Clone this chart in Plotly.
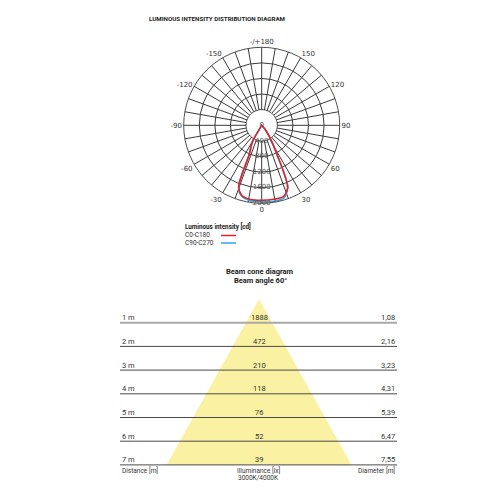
import plotly.graph_objects as go

# ---------------- data ----------------
# Polar luminous intensity curves (theta in degrees, r in cd)
c0_theta = [-90, -36, -31, -29.4, -22.8, -22.0, -20.4, -15.9, -9.2, 0, 9.2, 17.2, 22.7, 25.1, 27.3, 32, 38.7, 44, 90]
c0_r     = [0, 0, 150, 471, 862, 1300, 1696, 1867, 1922, 1923, 1922, 1906, 1724, 1331, 895, 484, 164, 0, 0]
c90_theta = [-90, -36, -31, -29.4, -22.8, -22.0, -20.4, -15.9, -9.2, 0, 9.2, 17.2, 22.7, 25.1, 27.3, 32, 38.7, 44, 90]
c90_r     = [0, 0, 150, 471, 862, 1300, 1700, 1885, 1950, 1965, 1975, 1945, 1735, 1331, 895, 484, 164, 0, 0]

radial_ticks = [400, 800, 1200, 1600, 2000]
angular_tick_vals = list(range(0, 360, 10))
angular_labels = {0: "0", 30: "30", 60: "60", 90: "90", 120: "120", 150: "150",
                  180: "-/+180", 210: "-150", 240: "-120", 270: "-90", 300: "-60", 330: "-30"}

# Beam cone table
distances = [1, 2, 3, 4, 5, 6, 7]
distance_labels = ["1 m", "2 m", "3 m", "4 m", "5 m", "6 m", "7 m"]
illuminance = ["1888", "472", "210", "118", "76", "52", "39"]
diameters = [1.08, 2.16, 3.23, 4.31, 5.39, 6.47, 7.55]
diameter_labels = ["1,08", "2,16", "3,23", "4,31", "5,39", "6,47", "7,55"]

# ---------------- styling ----------------
RED = "#E3222B"
BLUE = "#2BA8DF"
GRID = "#3a3a3a"
TXT = "#333333"
YELLOW = "#FAF2A2"
FONT = "Roboto"

W = H = 500
OFF = 8  # page body margin

def px(xp):
    return (xp - OFF) / W

def py(yp):
    return 1 - (yp - OFF) / H

fig = go.Figure()

# ---------- polar part ----------
cx, cy, R = 261.7, 125.3, 78
polar_dom_x = [px(cx - R), px(cx + R)]
polar_dom_y = [py(cy + R), py(cy - R)]

ring_theta = list(range(0, 361, 5))
fig.add_trace(go.Scatterpolar(
    r=[radial_ticks[0]] * len(ring_theta), theta=ring_theta,
    mode="lines", fill="toself", fillcolor="white",
    line=dict(color=GRID, width=0.7), hoverinfo="skip", showlegend=False))

fig.add_trace(go.Scatterpolar(
    r=c90_r, theta=c90_theta, mode="lines",
    line=dict(color=BLUE, width=1.6, shape="spline", smoothing=0.8),
    name="C90-C270", showlegend=False))
fig.add_trace(go.Scatterpolar(
    r=c0_r, theta=c0_theta, mode="lines",
    line=dict(color=RED, width=1.6, shape="spline", smoothing=0.8),
    name="C0-C180", showlegend=False))

fig.add_trace(go.Scatterpolar(
    r=[0] + radial_ticks, theta=[0] * (len(radial_ticks) + 1),
    text=["0"] + [str(v) for v in radial_ticks], mode="text",
    textfont=dict(family="DejaVu Sans", size=7, color="#555555"),
    hoverinfo="skip", showlegend=False))

fig.update_layout(polar=dict(
    domain=dict(x=polar_dom_x, y=polar_dom_y),
    bgcolor="white",
    angularaxis=dict(
        rotation=-90, direction="counterclockwise",
        tickmode="array", tickvals=angular_tick_vals,
        ticktext=[angular_labels.get(v, "") for v in angular_tick_vals],
        ticks="", showline=True, linecolor=GRID, linewidth=0.9,
        gridcolor=GRID, gridwidth=0.7,
        tickfont=dict(family="DejaVu Sans", size=7, color="#333333")),
    radialaxis=dict(
        range=[0, 2000], tickmode="array", tickvals=radial_ticks,
        showticklabels=False, ticks="", showline=False,
        gridcolor=GRID, gridwidth=0.7),
))

# ---------- beam cone part ----------
apex_px_x, apex_px_y = 259 - OFF, 299 - OFF
sx, sy = 24.5, 23.7
x_range = [(0 - apex_px_x) / sx, (W - apex_px_x) / sx]
y_range = [(H - apex_px_y) / sy, (0 - apex_px_y) / sy]
x_left = (120 - OFF - apex_px_x) / sx
x_right = (397 - OFF - apex_px_x) / sx

dmax = distances[-1]
half = diameters[-1] / 2
fig.add_trace(go.Scatter(
    x=[0, -half, half, 0], y=[0, dmax, dmax, 0],
    mode="lines", fill="toself", fillcolor=YELLOW,
    line=dict(width=0), hoverinfo="skip", showlegend=False,
    xaxis="x", yaxis="y"))

fig.update_layout(
    xaxis=dict(domain=[0, 1], range=x_range, visible=False, fixedrange=True),
    yaxis=dict(domain=[0, 1], range=y_range, visible=False, fixedrange=True),
)

shapes = []
annotations = []
for i, d in enumerate(distances):
    first = (i == 0)
    shapes.append(dict(type="line", xref="x", yref="y",
                       x0=x_left, x1=x_right, y0=d, y1=d,
                       line=dict(color="#a8a8a8" if first else "#4a4a4a",
                                 width=2 if first else 1)))
    annotations.append(dict(xref="x", yref="y", x=x_left, y=d, yshift=5,
                            text=distance_labels[i], showarrow=False,
                            xanchor="left", yanchor="middle",
                            font=dict(family=FONT, size=7.5, color=TXT)))
    annotations.append(dict(xref="x", yref="y", x=0, y=d, yshift=5,
                            text=illuminance[i], showarrow=False,
                            xanchor="center", yanchor="middle",
                            font=dict(family=FONT, size=7.5, color=TXT)))
    annotations.append(dict(xref="x", yref="y", x=x_right, y=d, yshift=5,
                            text=diameter_labels[i], showarrow=False,
                            xanchor="right", yanchor="middle",
                            font=dict(family=FONT, size=7.5, color=TXT)))

annotations += [
    dict(xref="paper", yref="paper", x=px(120), y=py(470), text="Distance [m]",
         showarrow=False, xanchor="left", yanchor="middle",
         font=dict(family=FONT, size=6.5, color=TXT)),
    dict(xref="paper", yref="paper", x=px(258), y=py(470), text="Illuminance [lx]",
         showarrow=False, xanchor="center", yanchor="middle",
         font=dict(family=FONT, size=6.5, color=TXT)),
    dict(xref="paper", yref="paper", x=px(258), y=py(478), text="3000K/4000K",
         showarrow=False, xanchor="center", yanchor="middle",
         font=dict(family=FONT, size=6.5, color=TXT)),
    dict(xref="paper", yref="paper", x=px(397), y=py(470), text="Diameter [m]",
         showarrow=False, xanchor="right", yanchor="middle",
         font=dict(family=FONT, size=6.5, color=TXT)),
]

annotations += [
    dict(xref="paper", yref="paper", x=px(147), y=py(19),
         text="<b>LUMINOUS INTENSITY DISTRIBUTION DIAGRAM</b>",
         showarrow=False, xanchor="left", yanchor="middle",
         font=dict(family=FONT, size=6.2, color="#222222")),
    dict(xref="paper", yref="paper", x=px(260), y=py(271),
         text="<b>Beam cone diagram</b>",
         showarrow=False, xanchor="center", yanchor="middle",
         font=dict(family=FONT, size=7.5, color="#222222")),
    dict(xref="paper", yref="paper", x=px(260), y=py(280),
         text="<b>Beam angle 60°</b>",
         showarrow=False, xanchor="center", yanchor="middle",
         font=dict(family=FONT, size=7.5, color="#222222")),
]

annotations += [
    dict(xref="paper", yref="paper", x=px(183), y=py(227),
         text="<b>Luminous intensity [cd]</b>",
         showarrow=False, xanchor="left", yanchor="middle",
         font=dict(family=FONT, size=6.3, color="#222222")),
    dict(xref="paper", yref="paper", x=px(183), y=py(235), text="C0-C180",
         showarrow=False, xanchor="left", yanchor="middle",
         font=dict(family=FONT, size=6.5, color=TXT)),
    dict(xref="paper", yref="paper", x=px(183), y=py(242.5), text="C90-C270",
         showarrow=False, xanchor="left", yanchor="middle",
         font=dict(family=FONT, size=6.5, color=TXT)),
]
shapes += [
    dict(type="line", xref="paper", yref="paper", x0=px(221), x1=px(236),
         y0=py(235.5), y1=py(235.5), line=dict(color=RED, width=1.5)),
    dict(type="line", xref="paper", yref="paper", x0=px(221), x1=px(236),
         y0=py(243), y1=py(243), line=dict(color=BLUE, width=1.5)),
]

fig.update_layout(
    width=W, height=H,
    margin=dict(l=0, r=0, t=0, b=0),
    paper_bgcolor="white", plot_bgcolor="white",
    showlegend=False,
    shapes=shapes, annotations=annotations,
)

fig.write_html("out.html")
